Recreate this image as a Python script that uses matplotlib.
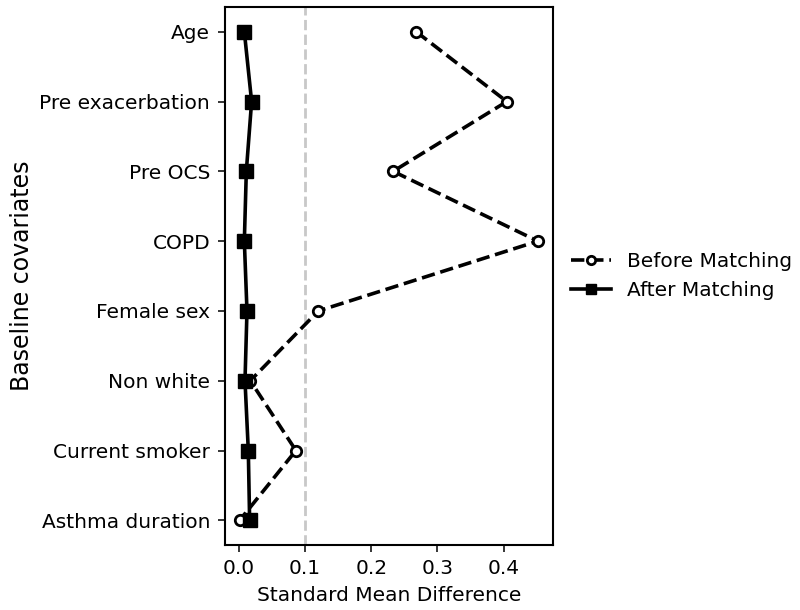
import matplotlib
matplotlib.use("Agg")
import matplotlib.pyplot as plt

covariates = ["Age", "Pre exacerbation", "Pre OCS", "COPD", "Female sex",
              "Non white", "Current smoker", "Asthma duration"]
smd_before = [0.268, 0.405, 0.233, 0.452, 0.120, 0.017, 0.086, 0.001]
smd_after = [0.008, 0.019, 0.011, 0.008, 0.012, 0.009, 0.014, 0.016]

plt.rcParams["font.size"] = 14.5
plt.rcParams["xtick.major.size"] = 5
plt.rcParams["ytick.major.size"] = 5
plt.rcParams["xtick.major.width"] = 1.1
plt.rcParams["ytick.major.width"] = 1.1
plt.rcParams["xtick.major.pad"] = 5
plt.rcParams["ytick.major.pad"] = 5.5

fig, ax = plt.subplots(figsize=(8, 6.1), dpi=100)

# сверху вниз, как в таблице
ypos = list(range(len(covariates)))[::-1]

ax.plot(smd_before, ypos, color="black", linestyle="--", linewidth=2.6,
        marker="o", markersize=7.5, markerfacecolor="white",
        markeredgewidth=2, label="Before Matching")
ax.plot(smd_after, ypos, color="black", linestyle="-", linewidth=2.6,
        marker="s", markersize=9.5, label="After Matching")
ax.axvline(0.1, color="#c8c8c8", linestyle="--", linewidth=2, zorder=0)

ax.set_yticks(ypos)
ax.set_yticklabels(covariates)
ax.set_xticks([0.0, 0.1, 0.2, 0.3, 0.4])
ax.set_xlabel("Standard Mean Difference", labelpad=6)
ax.set_ylabel("Baseline covariates", fontsize=17)
for s in ax.spines.values():
    s.set_linewidth(1.5)

ax.legend(loc="center left", bbox_to_anchor=(1.0, 0.5), frameon=False,
          markerscale=0.8)

fig.subplots_adjust(left=0.281, right=0.691, top=0.988, bottom=0.107)
fig.savefig("out.png", dpi=100)
